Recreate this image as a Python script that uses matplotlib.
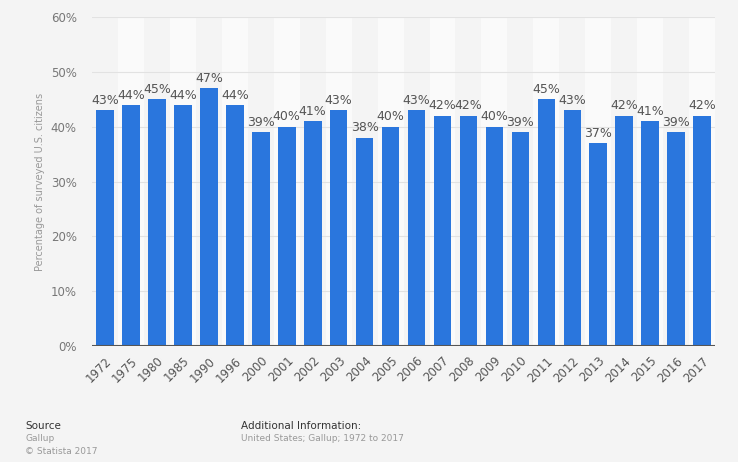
import matplotlib
matplotlib.use("Agg")
import matplotlib.pyplot as plt
import numpy as np

years = ["1972", "1975", "1980", "1985", "1990", "1996", "2000", "2001", "2002", "2003",
         "2004", "2005", "2006", "2007", "2008", "2009", "2010", "2011", "2012", "2013",
         "2014", "2015", "2016", "2017"]
values = [43, 44, 45, 44, 47, 44, 39, 40, 41, 43, 38, 40, 43, 42, 42, 40, 39, 45, 43, 37,
          42, 41, 39, 42]
yticks = [0, 10, 20, 30, 40, 50, 60]

bg = "#f4f4f4"
fig = plt.figure(figsize=(7.38, 4.62), dpi=100, facecolor=bg)
ax = fig.add_axes([0.1247, 0.251, 0.8443, 0.712])
ax.set_facecolor(bg)

x = np.arange(len(years))
for i in x:
    if i % 2 == 1:
        ax.axvspan(i - 0.5, i + 0.5, color="#fafafa", zorder=0, lw=0)

ax.set_ylim(0, 60)
ax.set_xlim(-0.5, len(years) - 0.5)
ax.set_yticks(yticks)
ax.set_yticklabels([f"{t}%" for t in yticks])
for t in yticks[1:]:
    ax.axhline(t, color="#e2e2e2", lw=0.8, zorder=1)
ax.axhline(0, color="#555555", lw=1.5, zorder=3)

ax.bar(x, values, width=0.68, color="#2a76dd", zorder=2)
for xi, v in zip(x, values):
    ax.text(xi, v + 0.6, f"{v}%", ha="center", va="bottom", fontsize=9, color="#555555")

ax.set_xticks(x)
ax.set_xticklabels(years, rotation=45, ha="right", rotation_mode="anchor", fontsize=8.5, color="#555555")
ax.tick_params(axis="x", length=0, pad=6)
ax.tick_params(axis="y", length=0, pad=11, labelsize=8.5, labelcolor="#777777")
for s in ax.spines.values():
    s.set_visible(False)
ax.set_ylabel("Percentage of surveyed U.S. citizens", fontsize=7, color="#999999", labelpad=4)

fig.text(0.0339, 0.072, "Source", fontsize=7.5, color="#333333")
fig.text(0.0339, 0.045, "Gallup", fontsize=6.5, color="#999999")
fig.text(0.0339, 0.018, "© Statista 2017", fontsize=6.5, color="#999999")
fig.text(0.327, 0.072, "Additional Information:", fontsize=7.5, color="#333333")
fig.text(0.327, 0.045, "United States; Gallup; 1972 to 2017", fontsize=6.5, color="#999999")

fig.savefig("out.png", dpi=100, facecolor=bg)
